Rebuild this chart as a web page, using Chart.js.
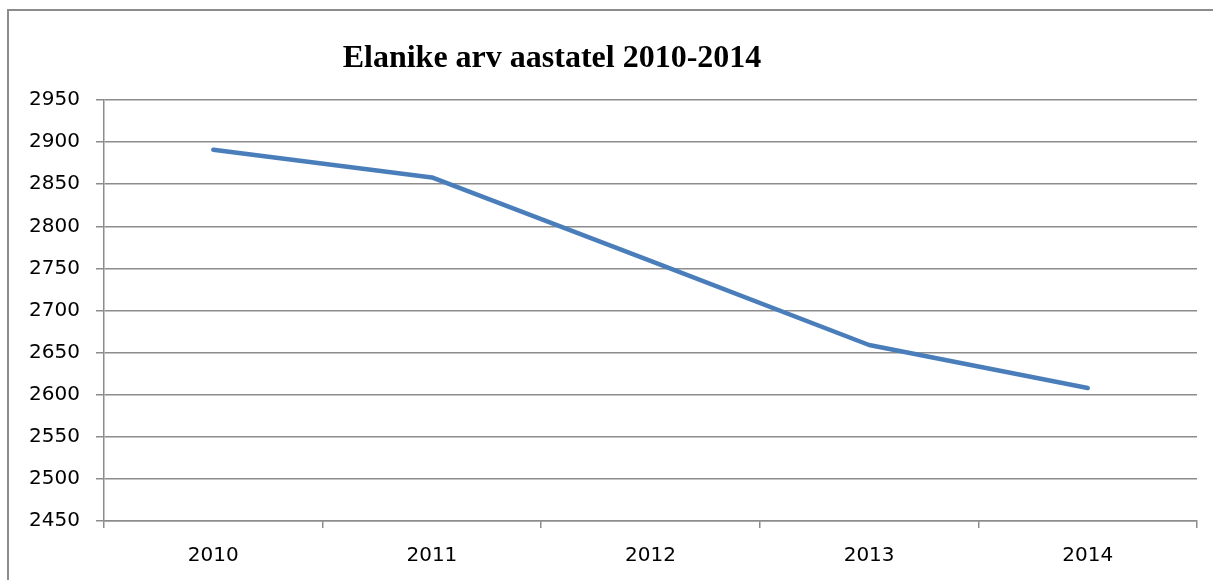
<!DOCTYPE html>
<html>
<head>
<meta charset="utf-8">
<script src="https://cdn.jsdelivr.net/npm/chart.js@4/dist/chart.umd.min.js"></script>
<style>
  html, body { margin: 0; padding: 0; background: #fff; overflow: hidden; }
  canvas { display: block; }
</style>
</head>
<body>
<canvas id="c" width="1213" height="580"></canvas>
<script>
const titleText = 'Elanike arv aastatel 2010-2014';
const categories = ['2010', '2011', '2012', '2013', '2014'];
const population = [2891, 2858, 2759, 2659, 2608];
const yMin = 2450, yMax = 2950, yStep = 50;

const gridColor = '#8c8c8c';

const decorPlugin = {
  id: 'decor',
  beforeDraw(chart) {
    const ctx = chart.ctx;
    ctx.save();
    ctx.strokeStyle = gridColor;
    ctx.lineWidth = 2;
    ctx.beginPath();
    ctx.moveTo(8, chart.height);
    ctx.lineTo(8, 10);
    ctx.lineTo(chart.width, 10);
    ctx.stroke();
    ctx.restore();
  },
  afterDraw(chart) {
    const ctx = chart.ctx;
    ctx.save();
    ctx.font = 'bold 32px "Liberation Serif", "Times New Roman", serif';
    ctx.fillStyle = '#000';
    ctx.textAlign = 'center';
    ctx.textBaseline = 'alphabetic';
    ctx.fillText(titleText, 552, 67);
    ctx.restore();
  }
};

new Chart(document.getElementById('c'), {
  type: 'line',
  data: {
    labels: categories,
    datasets: [{
      data: population,
      borderColor: '#4a7ebb',
      borderWidth: 4.5,
      borderCapStyle: 'round',
      borderJoinStyle: 'round',
      pointRadius: 0,
      tension: 0,
      fill: false
    }]
  },
  options: {
    responsive: false,
    animation: false,
    layout: { padding: { left: 0, right: 16, top: 100, bottom: 0 } },
    plugins: { legend: { display: false }, title: { display: false }, tooltip: { enabled: false } },
    scales: {
      x: {
        offset: true,
        grid: { display: true, offset: true, drawOnChartArea: false, drawTicks: true, tickLength: 7, color: gridColor, lineWidth: 1.5 },
        border: { display: true, color: gridColor, width: 1.5 },
        ticks: { color: '#000', padding: 16, font: { family: '"DejaVu Sans", sans-serif', size: 20 } },
        afterFit(scale) { scale.height = 59; }
      },
      y: {
        min: yMin, max: yMax,
        ticks: { stepSize: yStep, color: '#000', padding: 16, font: { family: '"DejaVu Sans", sans-serif', size: 20 },
                 callback: (v) => String(v) },
        grid: { color: gridColor, lineWidth: 1.5, tickLength: 8 },
        border: { display: true, color: gridColor, width: 1.5 },
        afterFit(scale) { scale.width = 104; }
      }
    }
  },
  plugins: [decorPlugin]
});
</script>
</body>
</html>
